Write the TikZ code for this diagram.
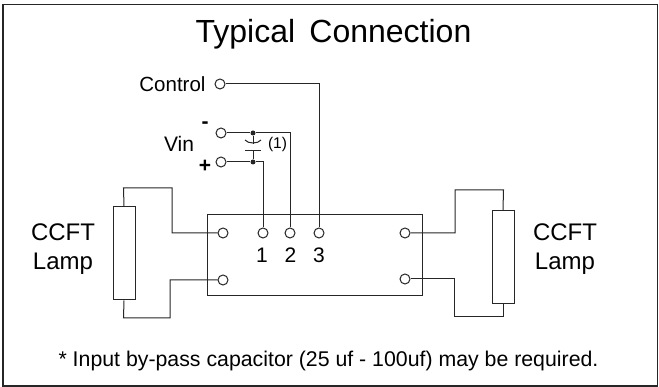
\documentclass[tikz,border=0pt]{standalone}
\usepackage{fontspec}
\setmainfont{Liberation Sans}
\tikzset{
  terminal/.style={draw,circle,inner sep=0pt,minimum size=10pt},
  junction/.style={fill,circle,inner sep=0pt,minimum size=5pt},
  lamp/.style={draw,inner sep=0pt,minimum width=22pt,minimum height=93pt},
  label/.style={black,inner sep=0pt,font=\fontsize{21}{24}\selectfont},
  lamplabel/.style={black,align=center,inner sep=0pt,font=\fontsize{24}{29}\selectfont},
}
\begin{document}
\begin{tikzpicture}[x=1pt,y=-1pt,line width=1pt,black!85]
  \useasboundingbox (0,0) rectangle (659,387);
  \draw[line width=1.3pt] (3,4.7) rectangle (657.5,386);
  \node[label,anchor=base,font=\fontsize{32}{36}\selectfont] (title) at (333.5,43) {Typical\, Connection};
  \node[draw,minimum width=215pt,minimum height=81pt,inner sep=0pt] (module) at (314.5,255.5) {};

  \node[terminal] (LU) at (223,233) {};
  \node[terminal] (LD) at (223,280) {};
  \node[terminal] (RU) at (405,233) {};
  \node[terminal] (RD) at (405,279) {};
  \node[terminal] (P1) at (263,233) {};
  \node[terminal] (P2) at (290,233) {};
  \node[terminal] (P3) at (319,233) {};
  \node[terminal] (ctrl) at (220,84) {};
  \node[terminal] (neg) at (221,133) {};
  \node[terminal] (pos) at (221,162) {};
  \node[junction] (J1) at (253,133) {};
  \node[junction] (J2) at (253,162) {};

  \node[label,anchor=base east,font=\fontsize{20.5}{24}\selectfont] (ctrlL) at (206,92) {Control};
  \node[label,anchor=base] (vinL) at (179,151.5) {Vin};
  \node[label,font=\fontsize{21}{24}\selectfont\bfseries] (negL) at (205,125) {-};
  \node[label,font=\fontsize{21}{24}\selectfont\bfseries] (posL) at (205,166) {+};
  \node[label,font=\fontsize{15.5}{18}\selectfont] (capL) at (277.5,144) {(1)};
  \node[label,anchor=base] (n1) at (262,262.5) {1};
  \node[label,anchor=base] (n2) at (290.5,262.5) {2};
  \node[label,anchor=base] (n3) at (319,262.5) {3};

  \draw (ctrl) -- (319,84) -- (P3);
  \draw (neg) -- (J1) -- (290,133) -- (P2);
  \draw (pos) -- (J2) -- (263,162) -- (P1);
  \coordinate (C1) at (253,144);
  \coordinate (C2) at (253,151);
  \draw (J1) -- (C1) (C2) -- (J2);
  \draw (245,140) .. controls (248,144) and (258,144) .. (261,140);
  \draw (245,151) -- (261,151);

  \node[lamp] (lampL) at (124,253.5) {};
  \node[lamp] (lampR) at (503,257) {};
  \draw (lampL.north) -- (123.5,188) -- (172,188) -- (172,233) -- (LU);
  \draw (lampL.south) -- (123.5,318) -- (170,318) -- (170,280) -- (LD);
  \draw (lampR.north) -- (503.5,190) -- (455,190) -- (455,233) -- (RU);
  \draw (lampR.south) -- (503,317) -- (454,317) -- (454,279) -- (RD);

  \node[lamplabel] (lampLL) at (63,249) {CCFT\\Lamp};
  \node[lamplabel] (lampRL) at (565,249) {CCFT\\Lamp};
  \node[label,anchor=base,font=\fontsize{21.3}{24}\selectfont] (note) at (328.5,366.7) {* Input by-pass capacitor (25 uf - 100uf) may be required.};
\end{tikzpicture}
\end{document}
